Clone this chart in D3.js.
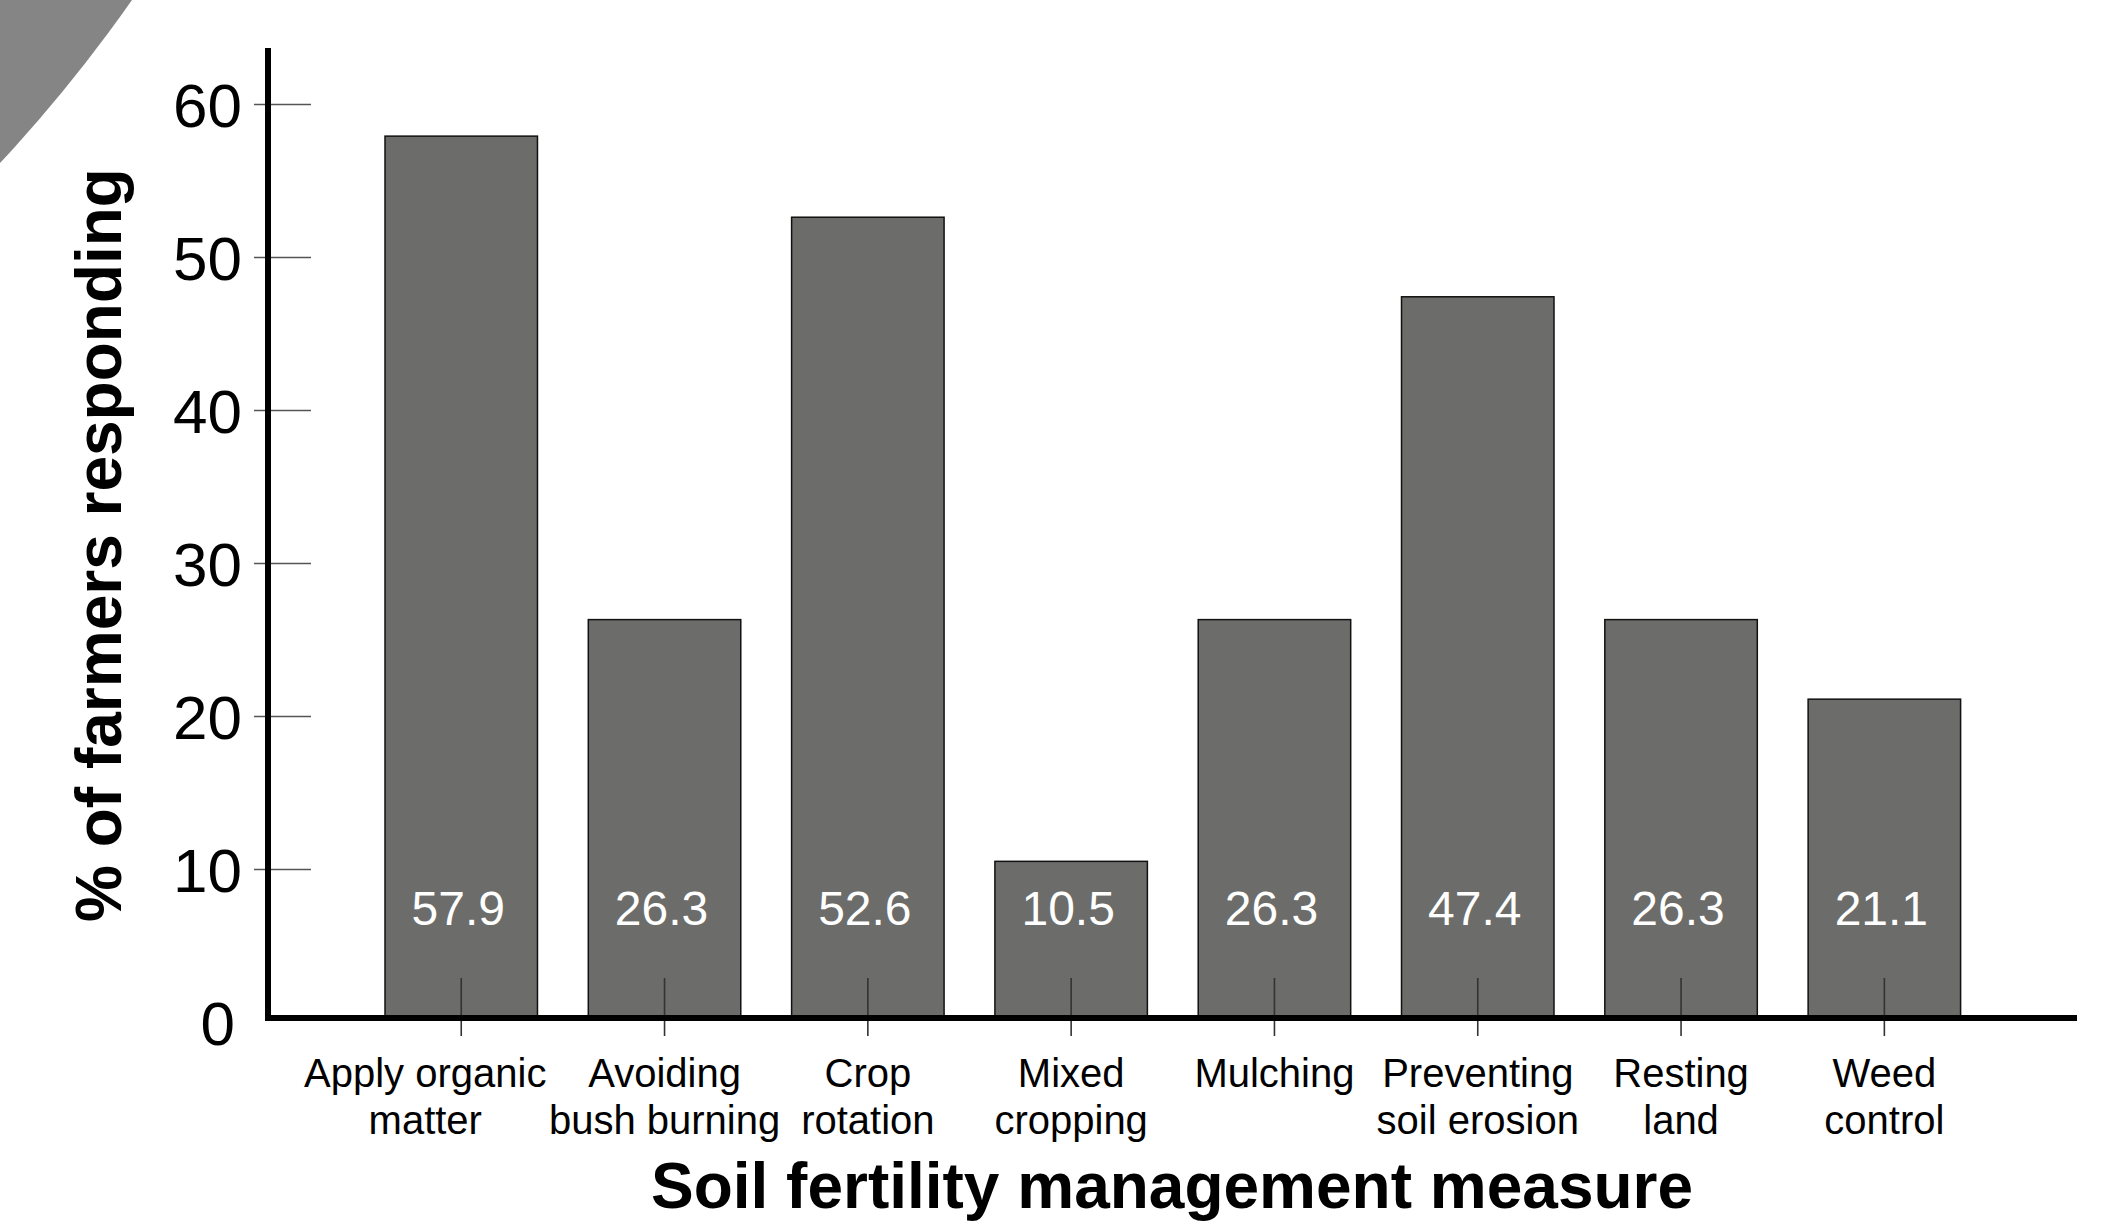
<!DOCTYPE html>
<html>
<head>
<meta charset="utf-8">
<script src="https://cdn.jsdelivr.net/npm/d3@7"></script>
<style>
  html, body { margin: 0; padding: 0; background: #fff; }
  svg { display: block; }
  text { font-family: "Liberation Sans", Arial, Helvetica, sans-serif; }
</style>
</head>
<body>
<script>
// ---- data ----
const categories = [
  "Apply organic\nmatter",
  "Avoiding\nbush burning",
  "Crop\nrotation",
  "Mixed\ncropping",
  "Mulching",
  "Preventing\nsoil erosion",
  "Resting\nland",
  "Weed\ncontrol"
];
const values = [57.9, 26.3, 52.6, 10.5, 26.3, 47.4, 26.3, 21.1];
const yTicks = [0, 10, 20, 30, 40, 50, 60];
const yTitle = "% of farmers responding";
const xTitle = "Soil fertility management measure";

// ---- layout ----
const W = 2110, H = 1229;
const svg = d3.select("body").append("svg").attr("width", W).attr("height", H);

// decorative corner shape
svg.append("circle")
  .attr("cx", -1101).attr("cy", -863).attr("r", 1505)
  .attr("fill", "#858585");

const x = d3.scaleBand()
  .domain(d3.range(categories.length))
  .range([385, 1960.6])
  .paddingInner(0.25)
  .paddingOuter(0);

const y = d3.scaleLinear().domain([0, 60]).range([1022, 104]);
const axisX = 268;
const baseY = y(0) - 4;

// bars
svg.append("g").selectAll("rect")
  .data(values)
  .join("rect")
  .attr("x", (d, i) => x(i))
  .attr("y", d => y(d))
  .attr("width", x.bandwidth())
  .attr("height", d => baseY - y(d))
  .attr("fill", "#6c6c6a")
  .attr("stroke", "#111")
  .attr("stroke-width", 1.5);

// value labels
svg.append("g").selectAll("text")
  .data(values)
  .join("text")
  .attr("x", (d, i) => x(i) + x.bandwidth() / 2 - 3)
  .attr("y", 925)
  .attr("text-anchor", "middle")
  .attr("fill", "#fff")
  .attr("font-size", 48)
  .text(d => d3.format(".1f")(d));

// y axis ticks
const yAxis = d3.axisLeft(y).tickValues(yTicks).tickSize(0).tickPadding(0);
const gy = svg.append("g").attr("transform", `translate(${axisX},0)`).call(yAxis);
gy.select(".domain").remove();
gy.selectAll(".tick line").remove();
gy.selectAll(".tick").filter(d => d !== 0).append("line")
  .attr("x1", -14).attr("x2", 43)
  .attr("stroke", "#555").attr("stroke-width", 1.6);
gy.selectAll(".tick text")
  .attr("x", d => d === 0 ? -33 : -26)
  .attr("dy", "0.36em")
  .attr("font-size", 62)
  .attr("font-family", "Liberation Sans, Arial, sans-serif")
  .attr("fill", "#000");

// x axis ticks
const xAxis = d3.axisBottom(x).tickSize(0).tickFormat("");
const gx = svg.append("g").attr("transform", `translate(0,${baseY})`).call(xAxis);
gx.select(".domain").remove();
gx.selectAll(".tick line").remove();
gx.selectAll(".tick").append("line")
  .attr("y1", -40).attr("y2", 18)
  .attr("stroke", "#333").attr("stroke-width", 1.6);

// category labels
const lab = svg.append("g").selectAll("text")
  .data(categories)
  .join("text")
  .attr("text-anchor", "middle")
  .attr("font-size", 40)
  .attr("fill", "#000")
  .attr("transform", (d, i) => `translate(${x(i) + x.bandwidth() / 2 + (i === 0 ? -36 : 0)},1087)`);
lab.selectAll("tspan")
  .data(d => d.split("\n"))
  .join("tspan")
  .attr("x", 0)
  .attr("y", (d, j) => j * 47)
  .text(d => d);

// axis lines
svg.append("line")
  .attr("x1", axisX).attr("x2", axisX)
  .attr("y1", 48).attr("y2", baseY + 3)
  .attr("stroke", "#000").attr("stroke-width", 6);
svg.append("line")
  .attr("x1", axisX - 3).attr("x2", 2077)
  .attr("y1", baseY).attr("y2", baseY)
  .attr("stroke", "#000").attr("stroke-width", 6);

// titles
svg.append("text")
  .attr("transform", "translate(121,545) rotate(-90)")
  .attr("text-anchor", "middle")
  .attr("font-size", 64)
  .attr("font-weight", "bold")
  .text(yTitle);

svg.append("text")
  .attr("x", 1172).attr("y", 1208)
  .attr("text-anchor", "middle")
  .attr("font-size", 64)
  .attr("font-weight", "bold")
  .text(xTitle);
</script>
</body>
</html>
